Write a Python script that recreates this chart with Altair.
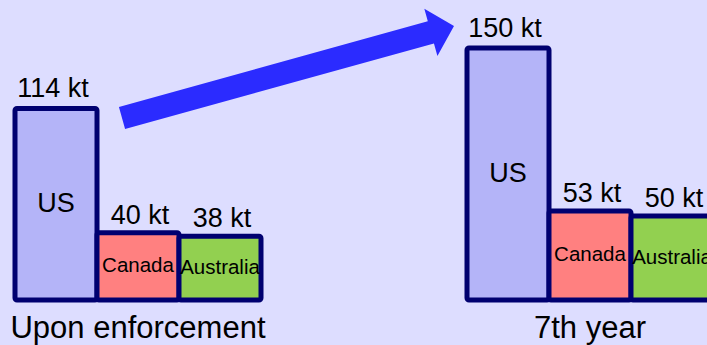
import altair as alt
import pandas as pd
import math

# ---- data ----
countries = ["US", "Canada", "Australia"]
groups = ["Upon enforcement", "7th year"]
values_enforcement = [114, 40, 38]
values_7th_year = [150, 53, 50]
unit = "kt"
country_colors = ["#B4B4F8", "#FF8080", "#92D050"]

# ---- layout ----
W, H = 707, 345
K = 1.68          # pixels per kt
BASE = 300        # pixel row of the zero line
GROUP_X0 = [15, 467]
BAR_W = 82
FONT = "Liberation Sans"

rows = []
for g, (grp, vals) in enumerate(zip(groups, [values_enforcement, values_7th_year])):
    for i, (c, v) in enumerate(zip(countries, vals)):
        x0 = GROUP_X0[g] + i * BAR_W
        rows.append(dict(group=grp, country=c, value=v, zero=0, half=v / 2,
                         x0=x0, x1=x0 + BAR_W, xc=x0 + BAR_W / 2,
                         label=f"{v} {unit}", order=g * 10 + i))
df = pd.DataFrame(rows)

gdf = pd.DataFrame({"group": groups,
                    "gx": [GROUP_X0[g] + 1.5 * BAR_W for g in range(len(groups))]})

xs = alt.Scale(domain=[0, W], nice=False, zero=False)
ys = alt.Scale(domain=[-(H - BASE) / K, BASE / K], nice=False, zero=False)

base = alt.Chart(df)

bars = base.mark_rect(stroke="#000070", strokeWidth=5, cornerRadius=2).encode(
    x=alt.X("x0:Q", scale=xs, axis=None),
    x2="x1:Q",
    y=alt.Y("value:Q", scale=ys, axis=None),
    y2="zero:Q",
    fill=alt.Fill("country:N", scale=alt.Scale(domain=countries, range=country_colors), legend=None),
    order="order:Q",
)

is_us = alt.datum.country == "US"

value_labels_us = base.transform_filter(is_us).mark_text(
    baseline="alphabetic", dy=-11, dx=-3, fontSize=27, font=FONT, color="black").encode(
    x=alt.X("xc:Q", scale=xs), y=alt.Y("value:Q", scale=ys), text="label:N")

value_labels_small = base.transform_filter(~is_us).mark_text(
    baseline="alphabetic", dy=-9, dx=2, fontSize=27, font=FONT, color="black").encode(
    x=alt.X("xc:Q", scale=xs), y=alt.Y("value:Q", scale=ys), text="label:N")

us_labels = base.transform_filter(is_us).mark_text(
    baseline="middle", fontSize=27, font=FONT, color="black").encode(
    x=alt.X("xc:Q", scale=xs), y=alt.Y("half:Q", scale=ys), text="country:N")

small_labels = base.transform_filter(~is_us).mark_text(
    baseline="middle", fontSize=20.5, font=FONT, color="black").encode(
    x=alt.X("xc:Q", scale=xs), y=alt.Y("half:Q", scale=ys), text="country:N")

group_labels = alt.Chart(gdf).mark_text(baseline="alphabetic", fontSize=31, font=FONT,
                                        color="black").encode(
    x=alt.X("gx:Q", scale=xs), y=alt.value(338), text="group:N")

# arrow annotation (from the first group's top toward the second group)
tail = (122, 118)
tip = (454, 26)
L = math.hypot(tip[0] - tail[0], tip[1] - tail[1])
r = L / 2
sw = 11.5 / r
hw = 24.5 / r
hb = 1 - 24 / r
path = (f"M-1,{-sw:.4f}L{hb:.4f},{-sw:.4f}L{hb:.4f},{-hw:.4f}L1,0"
        f"L{hb:.4f},{hw:.4f}L{hb:.4f},{sw:.4f}L-1,{sw:.4f}Z")
ang = math.degrees(math.atan2(tip[1] - tail[1], tip[0] - tail[0])) % 360
arrow = alt.Chart(pd.DataFrame({"a": [0]})).mark_point(
    shape=path, size=L * L, filled=True, fill="#2B2BFF", strokeWidth=0,
    opacity=1, angle=ang).encode(
    x=alt.value((tail[0] + tip[0]) / 2), y=alt.value((tail[1] + tip[1]) / 2))

chart = alt.layer(bars, value_labels_us, value_labels_small, us_labels, small_labels,
                  group_labels, arrow).properties(
    width=W, height=H, padding=0, autosize=alt.AutoSizeParams(type="none"),
    background="#DDDDFF",
).configure_view(stroke=None)

chart.save("out.html", embed_options={"renderer": "svg", "actions": False})
